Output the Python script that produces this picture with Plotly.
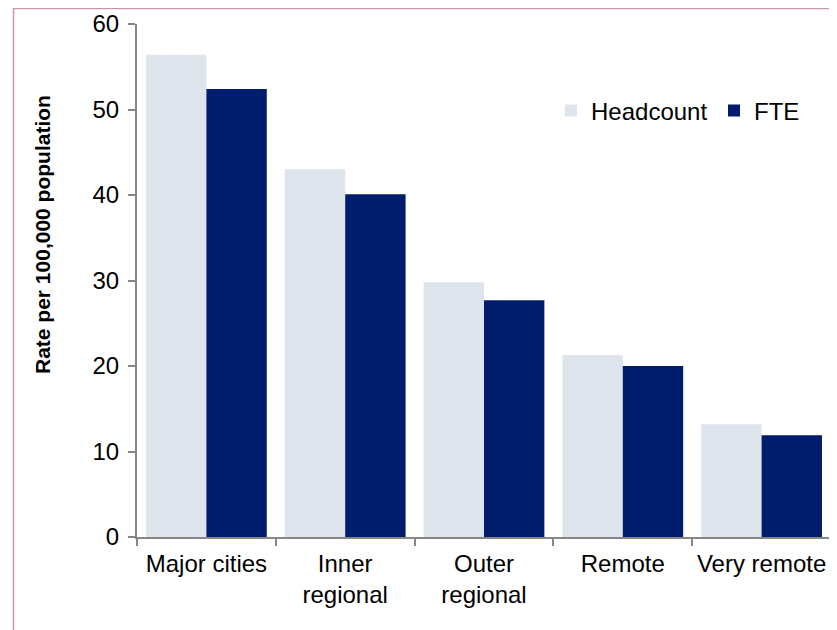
import plotly.graph_objects as go

categories = ["Major cities", "Inner<br>regional", "Outer<br>regional", "Remote", "Very remote"]
headcount = [56.4, 43.0, 29.8, 21.3, 13.2]
fte = [52.4, 40.1, 27.7, 20.0, 11.9]

# page body adds an 8px offset, so layout is in screen px minus 8
OFF = 8
W, H = 837, 630
L, R, T, B = 137 - OFF, W - (831 - OFF), 24 - OFF, H - (537 - OFF)
pw, ph = W - L - R, H - T - B

def px_x(x):
    return (x - OFF - L) / pw

def px_y(y):
    return (H - B - (y - OFF)) / ph

font = "Liberation Sans, Arial, sans-serif"
axis_col = "#868686"

fig = go.Figure()
fig.add_trace(go.Bar(x=categories, y=headcount, name="Headcount",
                     marker=dict(color="#dde4ec", line=dict(width=0))))
fig.add_trace(go.Bar(x=categories, y=fte, name="FTE",
                     marker=dict(color="#001c6c", line=dict(width=0))))

fig.update_layout(
    width=W, height=H,
    margin=dict(l=L, r=R, t=T, b=B, autoexpand=False),
    paper_bgcolor="white", plot_bgcolor="white",
    barmode="group", bargap=0.13, bargroupgap=0,
    font=dict(family=font, size=24, color="#000000"),
    legend=dict(orientation="h", x=px_x(551), y=px_y(111), yanchor="middle",
                xanchor="left", font=dict(size=24), itemwidth=30,
                entrywidth=118, bgcolor="rgba(0,0,0,0)", traceorder="normal"),
    showlegend=True,
)
fig.update_xaxes(showline=True, linecolor=axis_col, linewidth=2,
                 ticks="outside", tickson="boundaries", ticklen=7,
                 tickcolor=axis_col, tickwidth=2, showgrid=False,
                 tickangle=0, ticklabelstandoff=4, automargin=False,
                 tickfont=dict(size=24))
fig.update_yaxes(range=[0, 60], dtick=10, showline=True, linecolor=axis_col,
                 linewidth=2, ticks="outside", ticklen=7, tickcolor=axis_col,
                 tickwidth=2, showgrid=False, zeroline=False,
                 ticklabelstandoff=4, automargin=False, tickfont=dict(size=24))

fig.add_annotation(text="<b>Rate per 100,000 population</b>", textangle=-90,
                   xref="paper", yref="paper", x=px_x(42), y=px_y(235),
                   xanchor="center", yanchor="middle",
                   showarrow=False, font=dict(size=21, family=font))

# outer frame, only left and top edges show in the reference
fig.add_shape(type="rect", xref="paper", yref="paper",
              x0=px_x(13.5), x1=px_x(860), y0=px_y(660), y1=px_y(8.5),
              line=dict(color="#c896aa", width=1.5))

fig.write_html("out.html")
